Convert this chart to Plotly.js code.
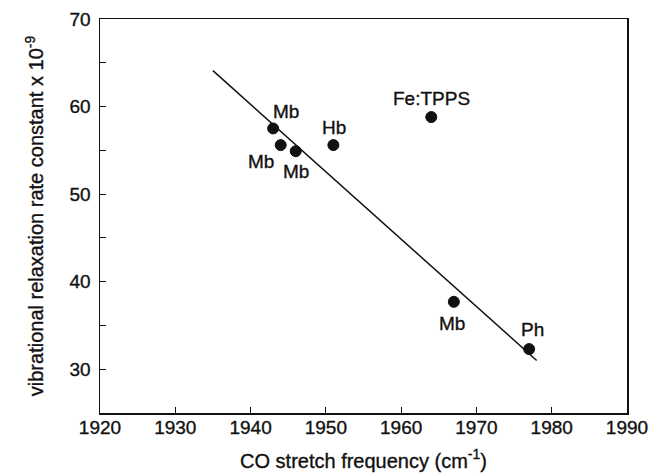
<!DOCTYPE html>
<html>
<head>
<meta charset="utf-8">
<script src="https://cdn.plot.ly/plotly-3.0.1.min.js"></script>
<style>
html,body{margin:0;padding:0;background:#fff;}
#chart{width:650px;height:474px;}
#chart text{stroke:#111;stroke-width:0.35px;}
</style>
</head>
<body>
<div id="chart"></div>
<script>
// Data
const freq = [1943, 1944, 1946, 1951, 1964, 1967, 1977];
const rate = [57.5, 55.6, 54.9, 55.6, 58.8, 37.7, 32.3];
const labels = ["Mb", "Mb", "Mb", "Hb", "Fe:TPPS", "Mb", "Ph"];
const fitX = [1935, 1978];
const fitY = [64.1, 31.0];

// Label offsets (px), style only
const labelShiftX = [13, -20, 0, 1, 0, -2, 3];
const labelShiftY = [17, -16, -20, 18, 19, -22, 20];

const FONT = "Liberation Sans, Arial, Helvetica, sans-serif";
const INK = "#111";

const traces = [
  {x: fitX, y: fitY, mode: "lines", type: "scatter",
   line: {color: INK, width: 1.5}, hoverinfo: "skip", showlegend: false},
  {x: freq, y: rate, mode: "markers", type: "scatter",
   marker: {color: INK, size: 11, line: {color: INK, width: 1}}, showlegend: false}
];

const annotations = labels.map((t, i) => ({
  x: freq[i], y: rate[i], xref: "x", yref: "y", text: t,
  showarrow: false, xshift: labelShiftX[i], yshift: labelShiftY[i],
  font: {family: FONT, size: 19, color: INK}
}));

const layout = {
  width: 650, height: 474,
  margin: {l: 100, r: 23, t: 19, b: 61},
  paper_bgcolor: "#fff", plot_bgcolor: "#fff",
  font: {family: FONT, color: INK, size: 19},
  xaxis: {
    range: [1920, 1990], dtick: 10, tick0: 1920,
    showgrid: false, zeroline: false,
    showline: true, mirror: true, linecolor: INK, linewidth: 1.5,
    ticks: "inside", ticklen: 6, tickcolor: INK, tickwidth: 1,
    ticklabelstandoff: -3,
    tickfont: {family: FONT, size: 19, color: INK},
    title: {text: "CO stretch frequency (cm<sup>-1</sup>)", font: {family: FONT, size: 20, color: INK}, standoff: 16}
  },
  yaxis: {
    range: [25, 70], dtick: 10, tick0: 30,
    showgrid: false, zeroline: false,
    showline: true, mirror: true, linecolor: INK, linewidth: 1.5,
    ticks: "inside", ticklen: 6, tickcolor: INK, tickwidth: 1,
    ticklabelstandoff: 4,
    minor: {dtick: 5, ticks: "inside", ticklen: 6, tickcolor: INK, tickwidth: 1, showgrid: false},
    tickfont: {family: FONT, size: 19, color: INK},
    title: {text: "vibrational relaxation rate constant x 10<sup>-9</sup>", font: {family: FONT, size: 20, color: INK}, standoff: 20}
  },
  annotations: annotations,
  showlegend: false
};

Plotly.newPlot("chart", traces, layout, {staticPlot: true, displayModeBar: false});
</script>
</body>
</html>
